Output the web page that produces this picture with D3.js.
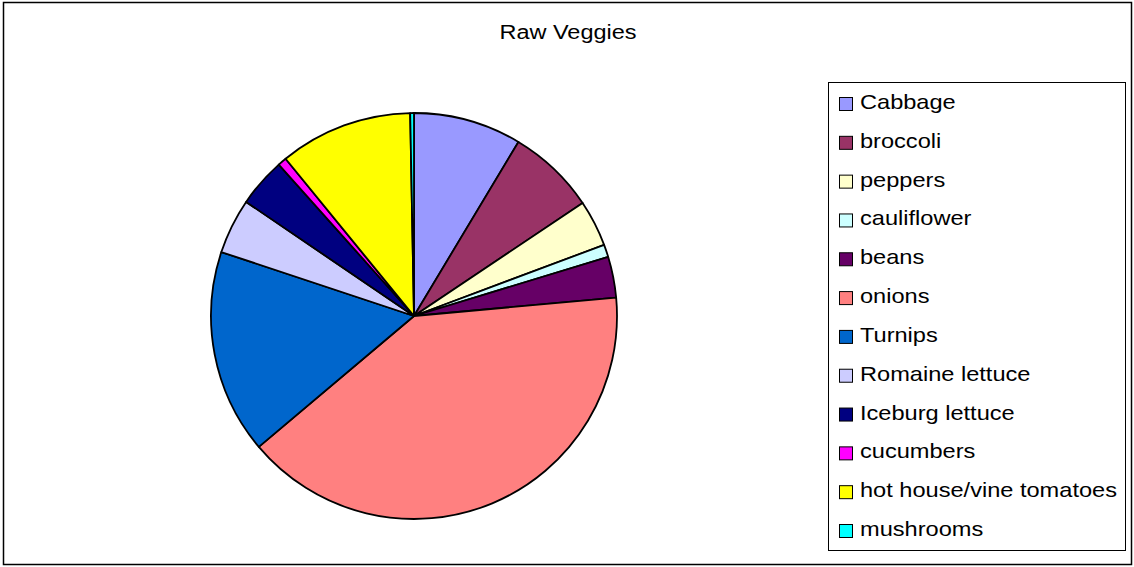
<!DOCTYPE html>
<html>
<head>
<meta charset="utf-8">
<script src="https://cdn.jsdelivr.net/npm/d3@7"></script>
<style>
  html, body { margin: 0; padding: 0; background: #fff; }
  svg { display: block; font-family: "Liberation Sans", Arial, sans-serif; }
</style>
</head>
<body>
<svg id="chart" width="1134" height="567"></svg>
<script>
// Share of each raw vegetable (percent)
const categories = ["Cabbage", "broccoli", "peppers", "cauliflower", "beans", "onions",
  "Turnips", "Romaine lettuce", "Iceburg lettuce", "cucumbers",
  "hot house/vine tomatoes", "mushrooms"];
const values = [8.6, 7.0, 3.7, 1.0, 3.25, 40.3, 16.25, 4.4, 3.9, 0.7, 10.6, 0.3];
const colors = ["#9999FF", "#993366", "#FFFFCC", "#CCFFFF", "#660066", "#FF8080",
  "#0066CC", "#CCCCFF", "#000080", "#FF00FF", "#FFFF00", "#00FFFF"];
const title = "Raw Veggies";

const svg = d3.select("#chart");

// outer frame
svg.append("rect")
  .attr("x", 3.5).attr("y", 2.5)
  .attr("width", 1128).attr("height", 562)
  .attr("fill", "#fff").attr("stroke", "#000").attr("stroke-width", 1.5);

// title (text is slightly stretched horizontally)
svg.append("text")
  .attr("x", 568).attr("y", 39)
  .attr("text-anchor", "middle")
  .attr("font-size", 20)
  .attr("textLength", 137).attr("lengthAdjust", "spacingAndGlyphs")
  .text(title);

// pie
const cx = 414, cy = 316, r = 203;
const color = d3.scaleOrdinal().domain(categories).range(colors);
const pie = d3.pie().sort(null).value(d => d.value);
const arc = d3.arc().innerRadius(0).outerRadius(r);
const data = categories.map((c, i) => ({ name: c, value: values[i] }));

svg.append("g")
  .attr("transform", `translate(${cx},${cy})`)
  .selectAll("path")
  .data(pie(data))
  .join("path")
  .attr("d", arc)
  .attr("fill", d => color(d.data.name))
  .attr("stroke", "#000")
  .attr("stroke-width", 1.8)
  .attr("stroke-linejoin", "round");

// legend
const legend = svg.append("g");
legend.append("rect")
  .attr("x", 828.5).attr("y", 82.5)
  .attr("width", 297).attr("height", 468)
  .attr("fill", "#fff").attr("stroke", "#000").attr("stroke-width", 1);

const rowY = d3.scalePoint().domain(categories).range([104, 531]);
const rows = legend.selectAll("g.row")
  .data(categories)
  .join("g")
  .attr("class", "row")
  .attr("transform", d => `translate(0,${rowY(d)})`);

rows.append("rect")
  .attr("x", 839.5).attr("y", -6.5)
  .attr("width", 13).attr("height", 13)
  .attr("fill", d => color(d))
  .attr("stroke", "#000").attr("stroke-width", 1);

rows.append("text")
  .attr("x", 860).attr("y", 5)
  .attr("font-size", 20)
  .attr("transform", "translate(860,0) scale(1.18,1) translate(-860,0)")
  .text(d => d);
</script>
</body>
</html>
